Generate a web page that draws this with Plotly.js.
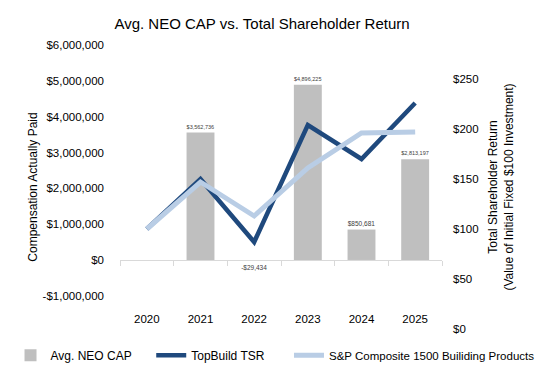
<!DOCTYPE html>
<html>
<head>
<meta charset="utf-8">
<script src="https://cdn.plot.ly/plotly-3.0.1.min.js"></script>
<style>html,body{margin:0;padding:0;background:#fff;}#chart{width:538px;height:377px;}</style>
</head>
<body>
<div id="chart"></div>
<script>
const years = ['2020', '2021', '2022', '2023', '2024', '2025'];
const neoCap = [null, 3562736, -29434, 4896225, 850681, 2813197];
const topbuildTSR = [100, 150, 87, 204, 170, 226];
const spBuilding = [100, 147, 113, 161, 196, 197];
const leftTickVals = [-1000000, 0, 1000000, 2000000, 3000000, 4000000, 5000000, 6000000];
const leftTickText = ['-$1,000,000', '$0', '$1,000,000', '$2,000,000', '$3,000,000', '$4,000,000', '$5,000,000', '$6,000,000'];

function fmt(v) {
  if (v === null) return '';
  return (v < 0 ? '-' : '') + '$' + Math.abs(v).toLocaleString('en-US');
}

const yMin = -1930000, yMax = 6010000;
const font = 'Liberation Sans, Arial, sans-serif';

const traces = [
  {
    type: 'bar', name: 'Avg. NEO CAP', x: years, y: neoCap,
    marker: {color: '#BFBFBF'}, width: 0.52,
    text: neoCap.map(fmt), textposition: 'outside', cliponaxis: false,
    textfont: {size: 6.5, color: '#404040', family: font},
    hoverinfo: 'skip', legend: 'legend'
  },
  {
    type: 'scatter', mode: 'lines', name: 'TopBuild TSR', x: years, y: topbuildTSR,
    yaxis: 'y2', line: {color: '#1F497D', width: 4.5}, legend: 'legend2'
  },
  {
    type: 'scatter', mode: 'lines', name: 'S&P Composite 1500 Builiding Products', x: years, y: spBuilding,
    yaxis: 'y2', line: {color: '#B9CDE5', width: 5}, legend: 'legend3'
  }
];

const legendBase = {orientation: 'h', xanchor: 'left', y: -0.092, yanchor: 'middle', font: {size: 12}, itemwidth: 30};

const layout = {
  width: 538, height: 377,
  margin: {l: 120, r: 96, t: 45, b: 48, autoexpand: false},
  paper_bgcolor: '#fff', plot_bgcolor: '#fff',
  font: {family: font, size: 11.5, color: '#000'},
  showlegend: true,
  title: {text: 'Avg. NEO CAP vs. Total Shareholder Return', font: {size: 15, color: '#000'},
          x: 0.487, xanchor: 'center', y: 0.936, yanchor: 'middle'},
  xaxis: {
    type: 'category', range: [-0.5, 5.5], anchor: 'free',
    position: (0 - yMin) / (yMax - yMin),
    showline: true, linecolor: '#D9D9D9', linewidth: 1,
    ticks: 'outside', tickson: 'boundaries', ticklen: 5, tickcolor: '#D9D9D9',
    showgrid: false, zeroline: false,
    ticklabelstandoff: 48, tickfont: {size: 11.5}
  },
  yaxis: {
    range: [yMin, yMax], tickvals: leftTickVals, ticktext: leftTickText,
    showgrid: false, zeroline: false, showline: false, ticks: '',
    ticklabelstandoff: 15,
    title: {text: 'Compensation Actually Paid', font: {size: 12}, standoff: 2}
  },
  yaxis2: {
    overlaying: 'y', side: 'right', range: [0, 284], dtick: 50, tickprefix: '$',
    showgrid: false, zeroline: false, showline: false, ticks: '',
    ticklabelstandoff: 10,
    title: {text: 'Total Shareholder Return<br>(Value of Initial Fixed $100 Investment)', font: {size: 12}, standoff: 11}
  },
  legend: Object.assign({}, legendBase, {x: -0.34}),
  legend2: Object.assign({}, legendBase, {x: 0.097}),
  legend3: Object.assign({}, legendBase, {x: 0.5248, font: {size: 11.5}})
};

Plotly.newPlot('chart', traces, layout, {displayModeBar: false, staticPlot: true});
</script>
</body>
</html>
